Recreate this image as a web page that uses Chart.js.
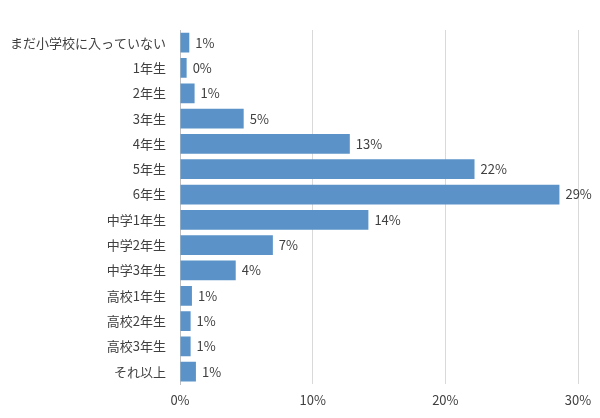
<!DOCTYPE html>
<html>
<head>
<meta charset="utf-8">
<script src="https://cdn.jsdelivr.net/npm/chart.js@4"></script>
<style>
body { margin: 0; background: #fff; }
#wrap { width: 600px; height: 418px; }
</style>
</head>
<body>
<div id="wrap"><canvas id="myChart"></canvas></div>
<script>
'use strict';

const categories = ['まだ小学校に入っていない', '1年生', '2年生', '3年生', '4年生', '5年生', '6年生',
    '中学1年生', '中学2年生', '中学3年生', '高校1年生', '高校2年生', '高校3年生', 'それ以上'];
const shares = [0.7, 0.5, 1.1, 4.8, 12.8, 22.2, 28.6, 14.2, 7.0, 4.2, 0.9, 0.8, 0.8, 1.2];
const shareLabels = ['1%', '0%', '1%', '5%', '13%', '22%', '29%', '14%', '7%', '4%', '1%', '1%', '1%', '1%'];
const xTicks = [0, 10, 20, 30];

const fontFamily = '"Noto Sans CJK JP", "DejaVu Sans", sans-serif';

// draws the percent text just past the end of each bar
const barLabels = {
    id: 'barLabels',
    afterDatasetsDraw(chart) {
        const ctx = chart.ctx;
        const meta = chart.getDatasetMeta(0);
        ctx.save();
        ctx.font = '13px ' + fontFamily;
        ctx.fillStyle = '#404040';
        ctx.textBaseline = 'middle';
        meta.data.forEach(function (bar, i) {
            ctx.fillText(shareLabels[i], bar.x + 6, bar.y);
        });
        ctx.restore();
    }
};

const myChart = new Chart(document.getElementById('myChart'), {
    type: 'bar',
    data: {
        labels: categories,
        datasets: [{
            data: shares,
            backgroundColor: '#5B93C9',
            barPercentage: 0.78,
            categoryPercentage: 1
        }]
    },
    options: {
        indexAxis: 'y',
        responsive: true,
        maintainAspectRatio: false,
        animation: false,
        layout: { padding: { top: 30, right: 22, bottom: 2, left: 4 } },
        plugins: { legend: { display: false }, tooltip: { enabled: false } },
        scales: {
            x: {
                min: 0,
                max: 30,
                afterBuildTicks: function (axis) {
                    axis.ticks = xTicks.map(function (v) { return { value: v }; });
                },
                ticks: {
                    callback: function (v) { return v + '%'; },
                    color: '#404040',
                    font: { size: 13, family: fontFamily },
                    padding: 8
                },
                grid: { color: '#d9d9d9', drawTicks: false },
                border: { display: false }
            },
            y: {
                ticks: {
                    color: '#404040',
                    font: { size: 13, family: fontFamily },
                    padding: 6
                },
                grid: { display: false },
                border: { color: '#bfbfbf' }
            }
        }
    },
    plugins: [barLabels]
});
</script>
</body>
</html>
